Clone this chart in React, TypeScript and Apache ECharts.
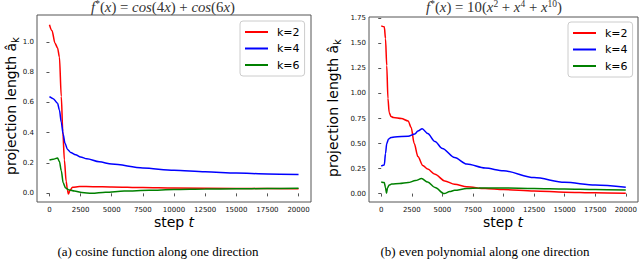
import React, { useEffect, useRef } from "react";
import * as echarts from "echarts";

// ---- data: panel (a) cos(4x)+cos(6x) ----
const A_RED_T = [0, 200, 450, 650, 800, 950, 1070, 1200, 1340, 1450, 1520, 1650, 1850, 2400, 3500, 5000, 7500, 10000, 15000, 20000];
const A_RED_V = [1.113, 1.075, 0.99, 0.96, 0.9, 0.64, 0.41, 0.22, 0.08, 0.02, -0.005, 0.02, 0.04, 0.045, 0.044, 0.042, 0.038, 0.035, 0.032, 0.03];
const A_BLUE_T = [0, 300, 650, 800, 950, 1100, 1250, 1450, 1700, 2100, 2500, 3000, 4000, 5000, 7500, 10000, 12500, 15000, 17500, 20000];
const A_BLUE_V = [0.638, 0.625, 0.595, 0.55, 0.47, 0.39, 0.33, 0.29, 0.27, 0.255, 0.24, 0.228, 0.208, 0.193, 0.167, 0.152, 0.142, 0.134, 0.128, 0.124];
const A_GREEN_T = [0, 300, 650, 800, 950, 1100, 1300, 1600, 2000, 2600, 3400, 4500, 6000, 8000, 10000, 12500, 15000, 17500, 20000];
const A_GREEN_V = [0.22, 0.225, 0.233, 0.21, 0.15, 0.07, 0.035, 0.022, 0.015, 0.006, 0.0, 0.007, 0.015, 0.021, 0.025, 0.028, 0.03, 0.032, 0.034];

// ---- data: panel (b) 10(x^2+x^4+x^10) ----
const B_RED_T = [0, 250, 350, 450, 550, 650, 800, 1000, 1650, 2200, 2450, 2700, 3000, 3400, 3800, 4400, 5200, 6000, 7000, 8500, 10000, 12500, 15000, 17500, 20000];
const B_RED_V = [1.676, 1.666, 1.55, 1.28, 0.95, 0.81, 0.77, 0.76, 0.75, 0.726, 0.66, 0.5, 0.37, 0.28, 0.245, 0.193, 0.126, 0.093, 0.068, 0.05, 0.04, 0.026, 0.014, 0.008, 0.003];
const B_BLUE_T = [0, 250, 350, 450, 600, 800, 1100, 2200, 2750, 3000, 3350, 3800, 4400, 5000, 6000, 7000, 8500, 10000, 12500, 15000, 17500, 20000];
const B_BLUE_V = [0.276, 0.286, 0.4, 0.5, 0.545, 0.56, 0.566, 0.573, 0.595, 0.625, 0.648, 0.6, 0.52, 0.45, 0.36, 0.295, 0.255, 0.228, 0.16, 0.113, 0.085, 0.063];
const B_GREEN_T = [0, 250, 350, 430, 520, 650, 850, 1500, 2200, 2800, 3300, 3800, 4400, 5150, 5600, 6000, 7000, 8000, 10000, 12500, 15000, 17500, 20000];
const B_GREEN_V = [0.116, 0.11, 0.06, 0.003, 0.06, 0.085, 0.095, 0.1, 0.11, 0.13, 0.15, 0.115, 0.06, 0.0, 0.02, 0.033, 0.05, 0.056, 0.057, 0.052, 0.047, 0.042, 0.037];

const SERIES_NAMES = ["k=2", "k=4", "k=6"];
const COLORS = ["#ff0000", "#0000ff", "#008000"];
const X_TICKS = [0, 2500, 5000, 7500, 10000, 12500, 15000, 17500, 20000];
const A_Y_TICKS = [0, 0.2, 0.4, 0.6, 0.8, 1.0];
const B_Y_TICKS = [0, 0.25, 0.5, 0.75, 1.0, 1.25, 1.5, 1.75];

const zip = (t: number[], v: number[]) => t.map((x, i) => [x, v[i]]);

export default function App() {
  const ref = useRef<HTMLDivElement>(null);
  useEffect(() => {
    document.body.style.margin = "0";
    const chart = echarts.init(ref.current!, null, { renderer: "svg" });
    const axisCol = "#555";
    const tickFont = { fontSize: 7, color: "#111", fontFamily: "DejaVu Sans" };
    const xAxis = (gi: number) => ({
      type: "value",
      gridIndex: gi,
      min: -1000,
      max: 21000,
      splitLine: { show: false },
      axisLine: { show: false },
      axisTick: { show: true, length: 3, lineStyle: { color: axisCol }, customValues: X_TICKS },
      axisLabel: { ...tickFont, margin: 4, customValues: X_TICKS, formatter: (v: number) => String(v) },
    });
    const yAxis = (gi: number, min: number, max: number, ticks: number[], dec: number) => ({
      type: "value",
      gridIndex: gi,
      min,
      max,
      splitLine: { show: false },
      axisLine: { show: false },
      axisTick: { show: true, length: 3, lineStyle: { color: axisCol }, customValues: ticks },
      axisLabel: { ...tickFont, margin: 3, customValues: ticks, formatter: (v: number) => v.toFixed(dec) },
    });
    const mk = (name: string, color: string, gi: number, t: number[], v: number[]) => ({
      type: "line",
      name,
      xAxisIndex: gi,
      yAxisIndex: gi,
      data: zip(t, v),
      showSymbol: false,
      symbol: "none",
      smooth: 0.3,
      smoothMonotone: "x",
      lineStyle: { color, width: 1.5 },
      itemStyle: { color },
    });
    const legend = (left: number, top: number) => ({
      left,
      top,
      orient: "vertical",
      data: SERIES_NAMES,
      icon: "rect",
      itemWidth: 23,
      itemHeight: 2,
      itemGap: 4.5,
      padding: [5, 5, 5, 5],
      borderColor: "#ccc",
      borderWidth: 1,
      borderRadius: 3,
      backgroundColor: "#fff",
      selectedMode: false,
      textStyle: { fontSize: 11, color: "#000", fontFamily: "DejaVu Sans", lineHeight: 12, padding: [0, 0, 0, 4] },
    });
    const serif = "Liberation Serif";
    const titleRich = {
      it: { fontFamily: serif, fontStyle: "italic", fontSize: 14.8, lineHeight: 17, fill: "#333" },
      rm: { fontFamily: serif, fontSize: 14.8, lineHeight: 17, fill: "#333" },
      sup: { fontFamily: serif, fontSize: 9.5, lineHeight: 10, verticalAlign: "top", fill: "#333" },
    };
    const ylabelRich = {
      m: { fontFamily: "DejaVu Sans", fontSize: 14, lineHeight: 18, fill: "#000" },
      sub: { fontFamily: "DejaVu Sans", fontSize: 10, lineHeight: 10, verticalAlign: "bottom", fill: "#000" },
    };
    const ylabel = (x: number, y: number) => ({
      type: "text",
      x,
      y,
      rotation: Math.PI / 2,
      style: {
        text: "{m|projection length â}{sub|k}",
        rich: ylabelRich,
        align: "center",
        verticalAlign: "middle",
      },
    });
    const xlabel = (x: number, y: number) => ({
      type: "text",
      x,
      y,
      style: {
        text: "{m|step }{i|t}",
        rich: {
          m: { fontFamily: "DejaVu Sans", fontSize: 14, fill: "#000" },
          i: { fontFamily: "DejaVu Sans", fontStyle: "italic", fontSize: 14, fill: "#000" },
        },
        align: "center",
        verticalAlign: "middle",
      },
    });
    const caption = (x: number, y: number, text: string) => ({
      type: "text",
      x,
      y,
      style: { text, fontFamily: serif, fontSize: 13, fill: "#000", align: "center", verticalAlign: "middle" },
    });
    chart.setOption({
      animation: false,
      grid: [
        { left: 37, top: 15, width: 274, height: 187, show: true, borderColor: axisCol, borderWidth: 1, backgroundColor: "transparent" },
        { left: 369, top: 17, width: 269, height: 185, show: true, borderColor: axisCol, borderWidth: 1, backgroundColor: "transparent" },
      ],
      xAxis: [xAxis(0), xAxis(1)],
      yAxis: [yAxis(0, -0.057, 1.177, A_Y_TICKS, 1), yAxis(1, -0.084, 1.764, B_Y_TICKS, 2)],
      legend: [legend(240, 21), legend(568, 22)],
      series: [
        mk(SERIES_NAMES[0], COLORS[0], 0, A_RED_T, A_RED_V),
        mk(SERIES_NAMES[1], COLORS[1], 0, A_BLUE_T, A_BLUE_V),
        mk(SERIES_NAMES[2], COLORS[2], 0, A_GREEN_T, A_GREEN_V),
        mk(SERIES_NAMES[0], COLORS[0], 1, B_RED_T, B_RED_V),
        mk(SERIES_NAMES[1], COLORS[1], 1, B_BLUE_T, B_BLUE_V),
        mk(SERIES_NAMES[2], COLORS[2], 1, B_GREEN_T, B_GREEN_V),
      ],
      graphic: [
        {
          type: "text",
          x: 163,
          y: 7,
          style: {
            text: "{it|f}{sup|*}{rm|(}{it|x}{rm|) = }{it|cos}{rm|(4}{it|x}{rm|) + }{it|cos}{rm|(6}{it|x}{rm|)}",
            rich: titleRich,
            align: "center",
            verticalAlign: "middle",
          },
        },
        {
          type: "text",
          x: 494,
          y: 7,
          style: {
            text: "{it|f}{sup|*}{rm|(}{it|x}{rm|) = 10(}{it|x}{sup|2}{rm| + }{it|x}{sup|4}{rm| + }{it|x}{sup|10}{rm|)}",
            rich: titleRich,
            align: "center",
            verticalAlign: "middle",
          },
        },
        ylabel(11, 106),
        ylabel(333, 108),
        xlabel(174, 222),
        xlabel(503, 222),
        caption(158, 251, "(a) cosine function along one direction"),
        caption(485, 251, "(b) even polynomial along one direction"),
      ],
    });
    return () => chart.dispose();
  }, []);
  return <div ref={ref} style={{ width: 640, height: 259 }} />;
}
